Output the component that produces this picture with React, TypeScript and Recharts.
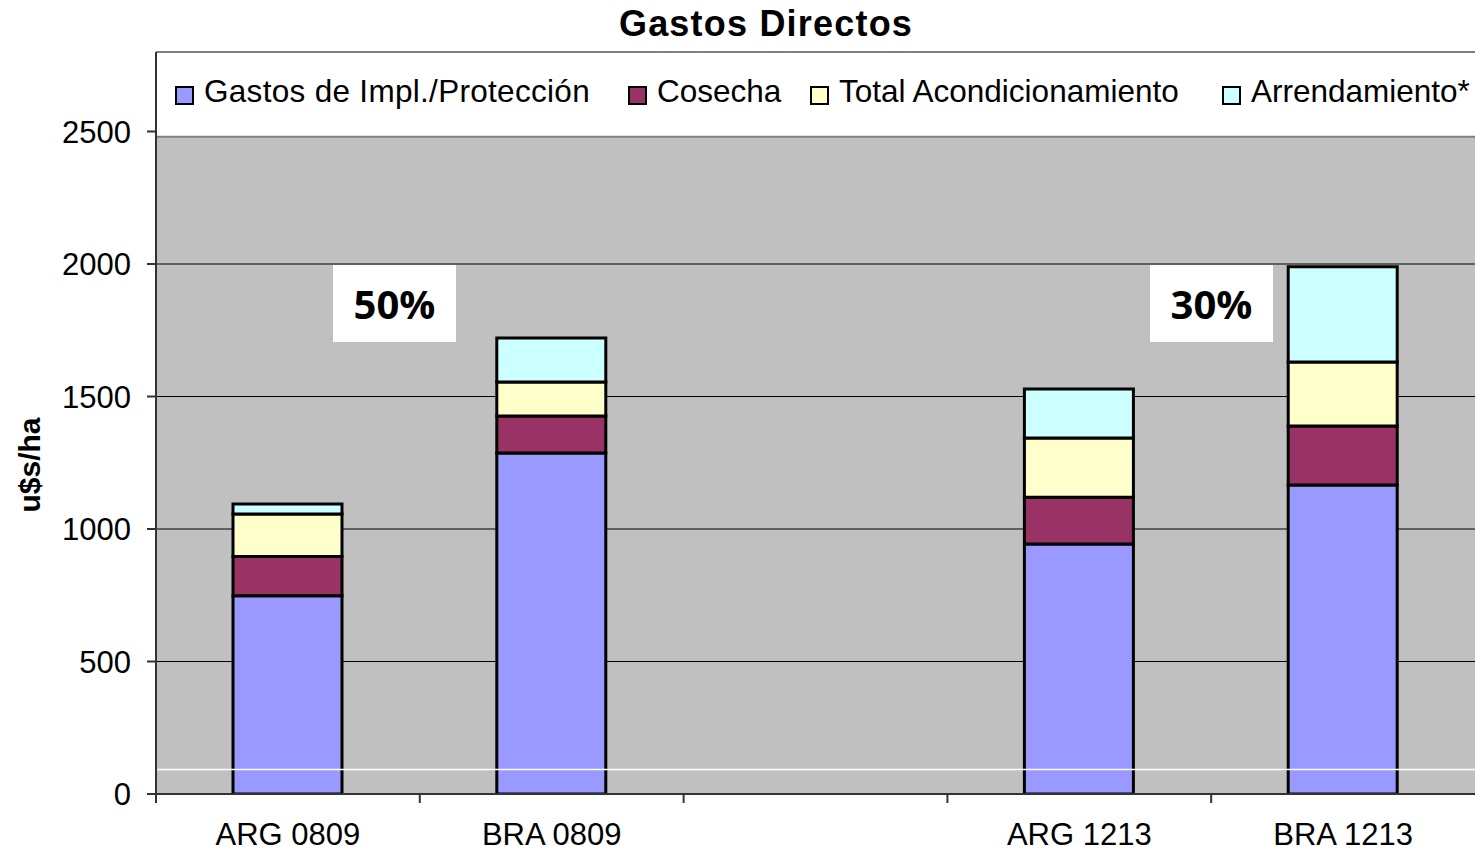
import { BarChart, Bar, XAxis, YAxis, CartesianGrid, Legend, ReferenceArea, ReferenceLine } from 'recharts';

const categories = ['ARG 0809', 'BRA 0809', '', 'ARG 1213', 'BRA 1213'];
const implProteccion = [748, 1287, null, 943, 1166];
const cosecha = [148, 139, null, 177, 223];
const acondicionamiento = [161, 129, null, 223, 241];
const arrendamiento = [37, 166, null, 185, 360];

const seriesNames = ['Gastos de Impl./Protección', 'Cosecha', 'Total Acondicionamiento', 'Arrendamiento*'];
const seriesKeys = ['impl', 'cosecha', 'acond', 'arrend'];
const COLORS = ['#9999FF', '#993366', '#FFFFCC', '#CCFFFF'];
const yTicks = [0, 500, 1000, 1500, 2000, 2500];
const percentLabels = ['50%', '30%'];

const W = 1475;
const H = 854;
const PLOT_LEFT = 156;
const FONT = '"Liberation Sans", Arial, sans-serif';

const data = categories.map((name, i) => ({
  name,
  impl: implProteccion[i],
  cosecha: cosecha[i],
  acond: acondicionamiento[i],
  arrend: arrendamiento[i],
}));

// legend item x positions inside the white box
const LEGEND_LEFT = [175, 628, 810, 1222];

const LegendContent = () => (
  <div style={{ position: 'relative', height: 50, fontFamily: FONT, fontSize: 31.5 }}>
    {seriesNames.map((n, i) => (
      <div key={n} style={{ position: 'absolute', left: LEGEND_LEFT[i], top: 0, display: 'flex', alignItems: 'center', whiteSpace: 'nowrap', letterSpacing: i === 0 ? 0.3 : 0 }}>
        <span style={{ display: 'inline-block', width: 15, height: 15, background: COLORS[i], border: '2px solid #000', marginRight: 10, marginTop: 8 }} />
        <span style={{ color: '#000' }}>{n}</span>
      </div>
    ))}
  </div>
);

const XTick = (props: any) => {
  const { x, y, payload } = props;
  const half = (W - PLOT_LEFT) / categories.length / 2;
  return (
    <g>
      <line x1={x - half} x2={x - half} y1={y - 9} y2={y} stroke="#333" strokeWidth={2} />
      <text x={x} y={y} dy={42} textAnchor="middle" fontFamily={FONT} fontSize={31} fill="#000">
        {payload.value}
      </text>
    </g>
  );
};

export default function App() {
  return (
    <div style={{ position: 'relative', width: W, height: H, background: '#fff', overflow: 'hidden' }}>
      <style>{`body{margin:0;overflow:hidden}`}</style>
      <div style={{ position: 'absolute', left: 466, width: 600, top: 3, textAlign: 'center', fontFamily: FONT, fontWeight: 700, fontSize: 36, letterSpacing: 1.2, color: '#000' }}>
        Gastos Directos
      </div>
      <BarChart width={W} height={H} data={data} margin={{ top: 52, right: 0, left: 0, bottom: 0 }} barCategoryGap={0}>
        <CartesianGrid vertical={false} stroke="#000" strokeWidth={1} fill="#C0C0C0" fillOpacity={1} />
        <ReferenceArea y1={2480} y2={2800} fill="#fff" fillOpacity={1} stroke="none" ifOverflow="hidden" />
        <ReferenceLine y={2800} stroke="#808080" strokeWidth={2} />
        <ReferenceLine y={2480} stroke="#808080" strokeWidth={2} />
        <ReferenceLine y={92} stroke="#fff" strokeWidth={1.5} />
        <XAxis dataKey="name" height={60} tickLine={false} tickSize={9} tickMargin={0} tick={<XTick />} axisLine={{ stroke: '#333', strokeWidth: 2 }} interval={0} />
        <YAxis
          width={PLOT_LEFT}
          domain={[0, 2800]}
          ticks={yTicks}
          allowDataOverflow
          tickSize={9}
          tickMargin={16}
          tick={{ fontFamily: FONT, fontSize: 31, fill: '#000' }}
          tickLine={{ stroke: '#333', strokeWidth: 2 }}
          axisLine={{ stroke: '#333', strokeWidth: 2 }}
          label={{
            value: 'u$s/ha',
            content: () => (
              <text x={40} y={465} transform="rotate(-90, 40, 465)" textAnchor="middle" fontFamily={FONT} fontWeight={700} fontSize={30} fill="#000">
                u$s/ha
              </text>
            ),
          }}
        />
        <Legend
          verticalAlign="middle"
          layout="horizontal"
          content={<LegendContent />}
          wrapperStyle={{ top: 73, left: 0, width: W }}
        />
        {seriesKeys.map((k, i) => (
          <Bar key={k} dataKey={k} name={seriesNames[i]} stackId="a" fill={COLORS[i]} stroke="#000" strokeWidth={3} barSize={109} isAnimationActive={false} />
        ))}
      </BarChart>
      {percentLabels.map((t, i) => (
        <div
          key={t}
          style={{
            position: 'absolute',
            left: i === 0 ? 333 : 1150,
            top: 265,
            width: 123,
            height: 77,
            background: '#fff',
            display: 'flex',
            alignItems: 'center',
            justifyContent: 'center',
            fontFamily: '"Open Sans", sans-serif',
            fontWeight: 700,
            fontSize: 40,
            color: '#000',
          }}
        >
          {t}
        </div>
      ))}
    </div>
  );
}
